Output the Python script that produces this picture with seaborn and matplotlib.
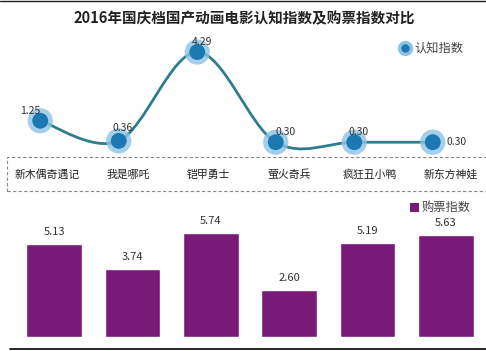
import numpy as np
import pandas as pd
import matplotlib
matplotlib.use("Agg")
import matplotlib.pyplot as plt
import seaborn as sns
from matplotlib.path import Path
from matplotlib.patches import PathPatch, Rectangle
from matplotlib.lines import Line2D

# =========================
# 数据
# =========================
movies = ["新木偶奇遇记", "我是哪吒", "铠甲勇士", "萤火奇兵", "疯狂丑小鸭", "新东方神娃"]
awareness = [1.25, 0.36, 4.29, 0.30, 0.30, 0.30]
ticket = [5.13, 3.74, 5.74, 2.60, 5.19, 5.63]

title = "2016年国庆档国产动画电影认知指数及购票指数对比"
line_name = "认知指数"
bar_name = "购票指数"

# =========================
# 样式
# =========================
sns.set_style("white")
plt.rcParams['font.family'] = ['Noto Sans CJK SC', 'DejaVu Sans']
plt.rcParams['axes.unicode_minus'] = False

line_color = "#2f7d8c"
dot_color = "#1b78b1"
halo_color = "#8cc3e3"
bar_color = "#7a1a78"
text_color = "#333333"

df = pd.DataFrame({"movie": movies, "awareness": awareness, "ticket": ticket})

W, H = 486, 351
fig = plt.figure(figsize=(W / 100, H / 100), dpi=100)
fig.patch.set_facecolor("white")

def px(x0, y0, x1, y1):
    # 像素框 -> figure 坐标 (y 从上往下)
    return [x0 / W, 1 - y1 / H, (x1 - x0) / W, (y1 - y0) / H]

# =========================
# 上半部分：认知指数曲线
# =========================
ax_line = fig.add_axes(px(1, 36, 472, 149))
ax_line.set_xlim(-0.5, 5.5)
ax_line.set_ylim(0, 5)

# 平滑曲线 (Catmull-Rom -> Bezier)
xs = np.arange(len(awareness), dtype=float)
ys = np.array(awareness, dtype=float)
pts = np.column_stack([xs, ys])
ext = np.vstack([pts[0], pts, pts[-1]])
verts = [tuple(pts[0])]
codes = [Path.MOVETO]
for i in range(len(pts) - 1):
    p0, p1, p2, p3 = ext[i], ext[i + 1], ext[i + 2], ext[i + 3]
    c1 = p1 + (p2 - p0) / 6
    c2 = p2 - (p3 - p1) / 6
    verts += [tuple(c1), tuple(c2), tuple(p2)]
    codes += [Path.CURVE4] * 3
ax_line.add_patch(PathPatch(Path(verts, codes), facecolor="none",
                            edgecolor=line_color, lw=2, zorder=2, clip_on=False))

sns.scatterplot(data=df, x="movie", y="awareness", ax=ax_line, s=330,
                color=halo_color, alpha=0.8, edgecolor="none", zorder=3,
                legend=False, clip_on=False)
sns.scatterplot(data=df, x="movie", y="awareness", ax=ax_line, s=130,
                color=dot_color, edgecolor="none", zorder=4,
                legend=False, clip_on=False)

offsets = [(-0.13, 0.45), (0.05, 0.55), (0.06, 0.45), (0.12, 0.45), (0.05, 0.45), (0.18, 0.0)]
for i, v in enumerate(awareness):
    dx, dy = offsets[i]
    ha = "left" if i == len(awareness) - 1 else "center"
    ax_line.text(i + dx, v + dy, f"{v:.2f}", ha=ha, va="center",
                 fontsize=7.5, color=text_color, zorder=5)

ax_line.set_xlim(-0.5, 5.5)
ax_line.set_ylim(0, 5)
ax_line.axis("off")

# 图例
fig.add_artist(Line2D([405 / W], [1 - 48 / H], marker="o", markersize=11,
                      color=halo_color, markeredgecolor="none", linestyle="none"))
fig.add_artist(Line2D([405 / W], [1 - 48 / H], marker="o", markersize=6,
                      color=dot_color, markeredgecolor="none", linestyle="none"))
fig.text(414 / W, 1 - 48 / H, line_name, ha="left", va="center", fontsize=8.8, color="#444444")

# =========================
# 分类标签虚线框
# =========================
fig.add_artist(Rectangle((7 / W, 1 - 191 / H), 485 / W, 34 / H, transform=fig.transFigure,
                         fill=False, edgecolor="#888888", lw=0.8, linestyle=(0, (3, 2))))
ax_lab = fig.add_axes(px(7, 157, 491, 191))
ax_lab.set_xlim(-0.5, 5.5)
ax_lab.set_ylim(0, 1)
ax_lab.axis("off")
for i, m in enumerate(movies):
    ax_lab.text(i, 0.48, m, ha="center", va="center", fontsize=7.8, color="#222222")

# =========================
# 下半部分：购票指数柱状图
# =========================
ax_bar = fig.add_axes(px(15, 210, 485, 337))
sns.barplot(data=df, x="movie", y="ticket", ax=ax_bar, color=bar_color,
            width=0.714, saturation=1)
ax_bar.set_xlim(-0.5, 5.5)
ax_bar.set_ylim(0, 7)
for i, v in enumerate(ticket):
    ax_bar.text(i, v + 0.38, f"{v:.2f}", ha="center", va="bottom",
                fontsize=8, color=text_color)
ax_bar.axis("off")

fig.add_artist(Rectangle((410 / W, 1 - 212 / H), 9 / W, 9 / H, transform=fig.transFigure,
                         facecolor=bar_color, edgecolor="none"))
fig.text(422 / W, 1 - 207 / H, bar_name, ha="left", va="center", fontsize=8.8, color="#444444")

# =========================
# 标题与边线
# =========================
fig.text(244 / W, 1 - 18 / H, title, ha="center", va="center",
         fontsize=10.5, fontweight="bold", color="#222222")
fig.add_artist(Line2D([10 / W, 1], [1 - 349 / H] * 2, color="black", lw=1.2))
fig.add_artist(Line2D([0, 1], [1 - 0.5 / H] * 2, color="#222222", lw=1))

plt.savefig("out.png", dpi=100)
